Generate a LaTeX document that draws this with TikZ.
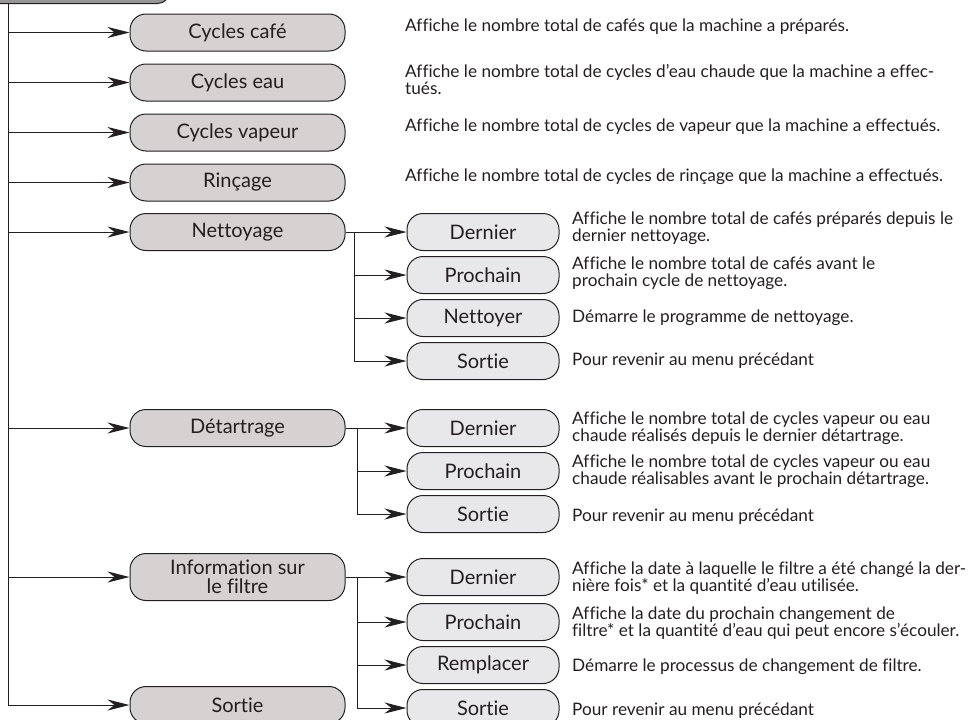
\documentclass[tikz,border=0pt]{standalone}
\usepackage{fontspec}
\setmainfont{Lato}[Ligatures=NoCommon]
\usetikzlibrary{arrows.meta}

\definecolor{lvlone}{RGB}{214,210,210}
\definecolor{lvltwo}{RGB}{232,232,234}
\definecolor{menugray}{RGB}{150,150,150}
\definecolor{ink}{RGB}{35,31,32}

\tikzset{
  entry/.style={draw=ink, line width=1pt, rounded corners=16pt, minimum height=37pt,
    inner sep=0pt, align=center, text=ink, font=\fontsize{20}{18}\selectfont},
  mainentry/.style={entry, fill=lvlone, minimum width=215pt},
  subentry/.style={entry, fill=lvltwo, minimum width=152pt},
  info/.style={anchor=west, align=left, text=ink, inner sep=0pt,
    font=\fontsize{17.2}{17}\selectfont},
  arr/.style={draw=ink, line width=1pt, -{Stealth[length=22pt,width=11pt,inset=7pt]}}
}

\begin{document}
\begin{tikzpicture}[x=1pt,y=-1pt]
\useasboundingbox (0,0) rectangle (969,720);

% menu du haut (coupé)
\node[draw=ink, line width=1pt, fill=menugray, rounded corners=12pt,
  minimum width=200pt, minimum height=40pt, anchor=south east] (menu) at (170,4) {};

% niveau 1
\node[mainentry] (cafe) at (237.5,32.5) {Cycles café};
\node[mainentry] (eau) at (237.5,82.5) {Cycles eau};
\node[mainentry] (vapeur) at (237.5,132.5) {Cycles vapeur};
\node[mainentry] (rincage) at (237.5,182.5) {Rinçage};
\node[mainentry] (nettoyage) at (237.5,232) {Nettoyage};
\node[mainentry] (detartrage) at (237.5,428) {Détartrage};
\node[mainentry, minimum height=47pt, font=\fontsize{20}{19}\selectfont] (filtre) at (237.5,577) {Information sur\\le filtre};
\node[mainentry] (sortie) at (237.5,705) {Sortie};

% niveau 2
\node[subentry] (nd) at (483,232) {Dernier};
\node[subentry] (np) at (483,275) {Prochain};
\node[subentry] (nn) at (483,318) {Nettoyer};
\node[subentry] (ns) at (483,361) {Sortie};

\node[subentry] (dd) at (483,428) {Dernier};
\node[subentry] (dp) at (483,471) {Prochain};
\node[subentry] (ds) at (483,514) {Sortie};

\node[subentry] (fd) at (483,577) {Dernier};
\node[subentry] (fp) at (483,622) {Prochain};
\node[subentry] (fr) at (483,665) {Remplacer};
\node[subentry] (fs) at (483,708) {Sortie};

% tronc
\coordinate (trunk) at (8,4);
\foreach \n in {cafe,eau,vapeur,rincage,nettoyage,detartrage,filtre}
  \draw[arr] (trunk |- \n.west) -- (\n.west);
\draw[arr] (trunk) |- (sortie.west);

% branches
\path (nettoyage.east) ++(9,0) coordinate (nbr);
\draw[arr] (nettoyage.east) -- (nd.west);
\foreach \n in {np,nn,ns}
  \draw[arr] (nbr) |- (\n.west);

\path (detartrage.east) ++(12,0) coordinate (dbr);
\draw[arr] (detartrage.east) -- (dd.west);
\foreach \n in {dp,ds}
  \draw[arr] (dbr) |- (\n.west);

\path (filtre.east) ++(12,0) coordinate (fbr);
\draw[arr] (filtre.east) -- (fd.west);
\foreach \n in {fp,fr,fs}
  \draw[arr] (fbr) |- (\n.west);

% textes
\node[info] (cafetxt) at (405,27) {Affiche le nombre total de cafés que la machine a préparés.};
\node[info] (eautxt) at (405,79) {Affiche le nombre total de cycles d’eau chaude que la machine a effec-\\tués.};
\node[info] (vapeurtxt) at (405,127) {Affiche le nombre total de cycles de vapeur que la machine a effectués.};
\node[info] (rincagetxt) at (405,177) {Affiche le nombre total de cycles de rinçage que la machine a effectués.};

\node[info] (ndtxt) at (572,228) {Affiche le nombre total de cafés préparés depuis le\\dernier nettoyage.};
\node[info] (nptxt) at (572,273) {Affiche le nombre total de cafés avant le\\prochain cycle de nettoyage.};
\node[info] (nntxt) at (572,318) {Démarre le programme de nettoyage.};
\node[info] (nstxt) at (572,361) {Pour revenir au menu précédant};

\node[info] (ddtxt) at (572,428) {Affiche le nombre total de cycles vapeur ou eau\\chaude réalisés depuis le dernier détartrage.};
\node[info] (dptxt) at (572,471) {Affiche le nombre total de cycles vapeur ou eau\\chaude réalisables avant le prochain détartrage.};
\node[info] (dstxt) at (572,517) {Pour revenir au menu précédant};

\node[info] (fdtxt) at (572,578) {Affiche la date à laquelle le filtre a été changé la der-\\nière fois* et la quantité d’eau utilisée.};
\node[info] (fptxt) at (572,623) {Affiche la date du prochain changement de\\filtre* et la quantité d’eau qui peut encore s’écouler.};
\node[info] (frtxt) at (572,667) {Démarre le processus de changement de filtre.};
\node[info] (fstxt) at (572,711) {Pour revenir au menu précédant};
\end{tikzpicture}
\end{document}
